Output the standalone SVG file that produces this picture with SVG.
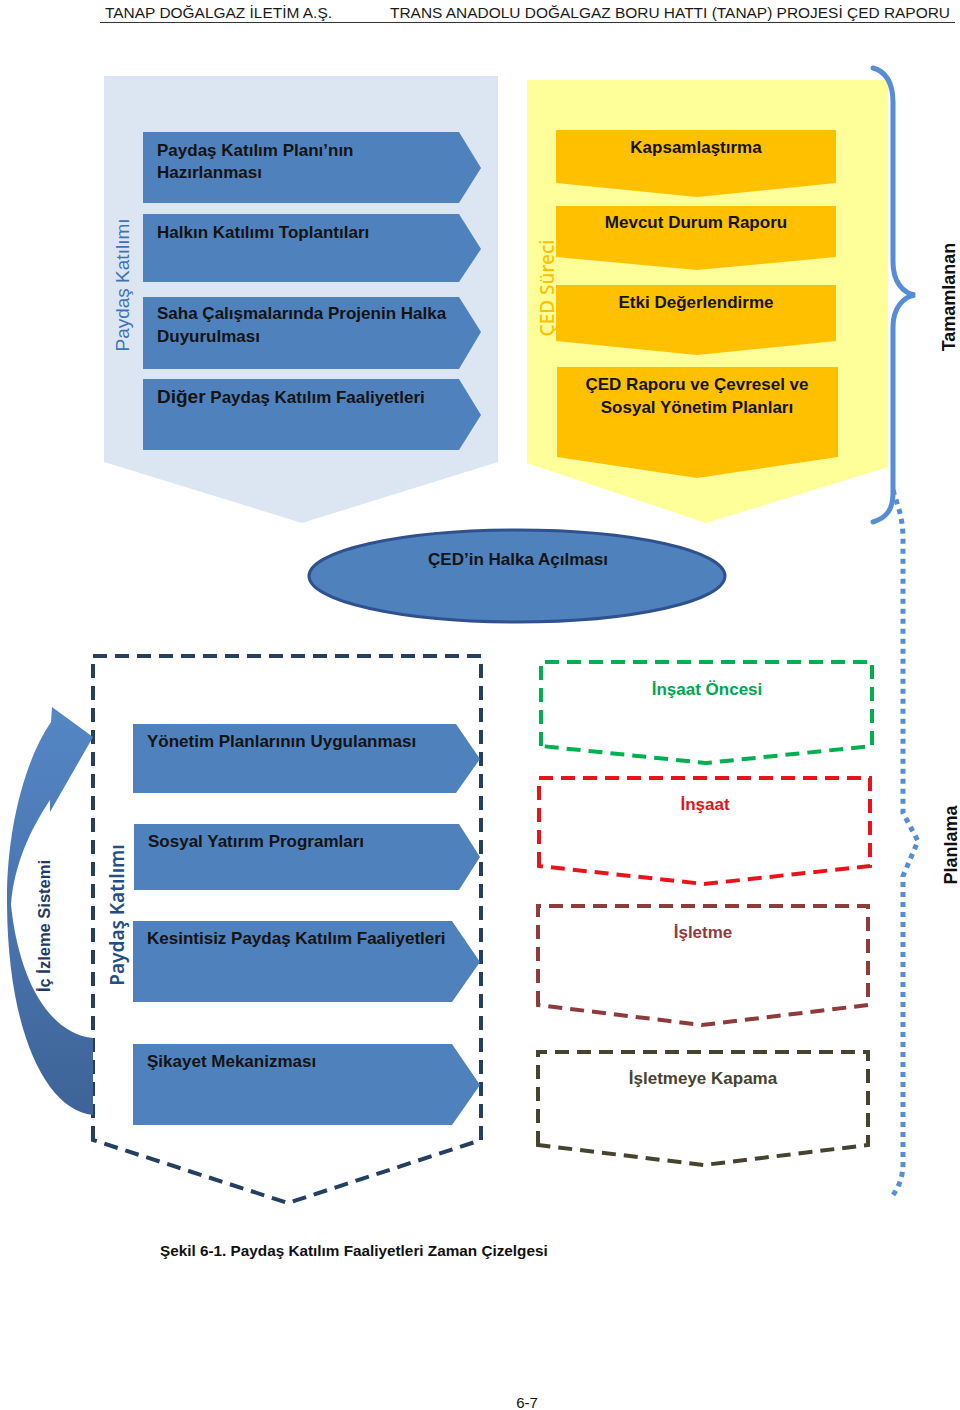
<svg xmlns="http://www.w3.org/2000/svg" width="960" height="1410" viewBox="0 0 960 1410">
<style>
text{font-family:"Liberation Sans",Arial,sans-serif}
.b{font-weight:bold;font-size:17px;fill:#141414}
.blue{fill:#4F81BD}
.org{fill:#FFC000}
.ds{fill:none;stroke-width:4;stroke-dasharray:14 8}
.c{text-anchor:middle}
</style>
<defs>
<linearGradient id="g" x1="0" y1="700" x2="0" y2="1120" gradientUnits="userSpaceOnUse">
<stop offset="0" stop-color="#5587C6"/>
<stop offset="1" stop-color="#3D6397"/>
</linearGradient>
</defs>
<rect width="960" height="1410" fill="#fff"/>
<g id="header">
<text x="105" y="18" font-size="15" fill="#1a1a1a" textLength="227" lengthAdjust="spacingAndGlyphs">TANAP DOĞALGAZ İLETİM A.Ş.</text>
<text x="390" y="18" font-size="15" fill="#1a1a1a" textLength="560" lengthAdjust="spacingAndGlyphs">TRANS ANADOLU DOĞALGAZ BORU HATTI (TANAP) PROJESİ ÇED RAPORU</text>
<line x1="100" y1="22.5" x2="955" y2="22.5" stroke="#333" stroke-width="1"/>
</g>
<g id="paydas-top">
<path d="M104 76 H498 V462 L302 523 L104 462 Z" fill="#DCE6F2"/>
<text transform="rotate(-90 129 285)" x="129" y="285" class="c" font-size="19" fill="#3F72B5">Paydaş Katılımı</text>
</g>
<g id="ced-sureci">
<path d="M527 80 H888 V467 L706 523 L527 463 Z" fill="#FFFF99"/>
<text transform="rotate(-90 554 288)" x="554" y="288" class="c" font-size="19" font-weight="500" fill="#FFC000" style="font-family:'Noto Sans','Open Sans',sans-serif">ÇED Süreci</text>
</g>
<g id="n1"><path class="blue" d="M143 132 H459 L481 168 L459 203 H143 Z"/><text class="b" x="157" y="156">Paydaş Katılım Planı’nın</text><text class="b" x="157" y="178">Hazırlanması</text></g>
<g id="n2"><path class="blue" d="M143 214 H459 L481 249 L459 282 H143 Z"/><text class="b" x="157" y="238">Halkın Katılımı Toplantıları</text></g>
<g id="n3"><path class="blue" d="M143 297 H459 L481 332 L459 369 H143 Z"/><text class="b" x="157" y="319">Saha Çalışmalarında Projenin Halka</text><text class="b" x="157" y="342">Duyurulması</text></g>
<g id="n4"><path class="blue" d="M143 379 H459 L481 415 L459 450 H143 Z"/><text class="b" x="157" y="403"><tspan font-size="19">Diğer</tspan> Paydaş Katılım Faaliyetleri</text></g>
<g id="o1"><path class="org" d="M556 130 H836 V183 L697 197 L556 183 Z"/><text class="b c" x="696" y="153">Kapsamlaştırma</text></g>
<g id="o2"><path class="org" d="M556 206 H836 V257 L697 270 L556 257 Z"/><text class="b c" x="696" y="228">Mevcut Durum Raporu</text></g>
<g id="o3"><path class="org" d="M556 285 H836 V341 L697 355 L556 341 Z"/><text class="b c" x="696" y="308">Etki Değerlendirme</text></g>
<g id="o4"><path class="org" d="M557 367 H838 V457 L697 478 L557 457 Z"/><text class="b c" x="697" y="390">ÇED Raporu ve Çevresel ve</text><text class="b c" x="697" y="413">Sosyal Yönetim Planları</text></g>
<g id="tamamlanan">
<path d="M873 68 C888 72 893 85 893 103 V262 C893 282 903 293 915 295 C903 297 893 308 893 327 V493 C893 510 886 518 873 522" fill="none" stroke="#558ED5" stroke-width="5" stroke-linecap="round"/>
<text transform="rotate(-90 955 297)" x="955" y="297" class="c" font-size="18" font-weight="bold" fill="#111">Tamamlanan</text>
</g>
<g id="ellipse">
<ellipse cx="517" cy="576" rx="208" ry="46" fill="#4F81BD" stroke="#2F528F" stroke-width="3"/>
<text class="b c" x="518" y="565">ÇED’in Halka Açılması</text>
</g>
<g id="uygulama">
<path class="ds" stroke="#243F60" d="M93 1140 V656 H481 V1140 L288 1203 Z"/>
<text transform="rotate(-90 124 915)" x="124" y="915" class="c" font-size="19" font-weight="600" fill="#254E85" style="font-family:'Noto Sans','Open Sans',sans-serif">Paydaş Katılımı</text>
</g>
<g id="izleme">
<path fill="url(#g)" d="M93 1115 C45 1110 8 1030 7 905 C6 830 25 760 51 722 L52 707 L93 737 L50 812 L50 800 C30 830 14 865 11 905 C20 990 55 1035 93 1038 Z"/>
<text transform="rotate(-90 50 926)" x="50" y="926" class="c" font-size="16.5" font-weight="bold" fill="#1F3B63">İç İzleme Sistemi</text>
</g>
<g id="b1"><path class="blue" d="M133 724 H456 L480 759 L456 793 H133 Z"/><text class="b" x="147" y="747">Yönetim Planlarının Uygulanması</text></g>
<g id="b2"><path class="blue" d="M134 824 H459 L480 857 L459 890 H134 Z"/><text class="b" x="148" y="847">Sosyal Yatırım Programları</text></g>
<g id="b3"><path class="blue" d="M133 921 H452 L480 962 L452 1002 H133 Z"/><text class="b" x="147" y="944">Kesintisiz Paydaş Katılım Faaliyetleri</text></g>
<g id="b4"><path class="blue" d="M133 1044 H452 L480 1085 L452 1125 H133 Z"/><text class="b" x="147" y="1067">Şikayet Mekanizması</text></g>
<g id="p1"><path class="ds" stroke="#00B050" d="M541 746 V662 H872 V746 L706 763 Z"/><text class="b c" x="707" y="695" style="fill:#00A650">İnşaat Öncesi</text></g>
<g id="p2"><path class="ds" stroke="#E8141B" d="M539 866 V778 H870 V866 L704 884 Z"/><text class="b c" x="705" y="810" style="fill:#E1141B">İnşaat</text></g>
<g id="p3"><path class="ds" stroke="#8E3B3B" d="M538 1005 V906 H868 V1005 L702 1025 Z"/><text class="b c" x="703" y="938" style="fill:#8E3B3B">İşletme</text></g>
<g id="p4"><path class="ds" stroke="#46432E" d="M538 1145 V1052 H868 V1145 L704 1165 Z"/><text class="b c" x="703" y="1084" style="fill:#46432E">İşletmeye Kapama</text></g>
<g id="connectors">
<path d="M893 490 C897 505 903 515 903 540 V813 L918 841 L903 876 V1164 C903 1178 898 1188 893 1195" fill="none" stroke="#558ED5" stroke-width="5" stroke-dasharray="5 5"/>
</g>
<g id="planlama">
<text transform="rotate(-90 957 845)" x="957" y="845" class="c" font-size="18" font-weight="bold" fill="#111">Planlama</text>
</g>
<g id="caption">
<text x="160" y="1256" font-size="15.3" font-weight="bold" fill="#111">Şekil 6-1. Paydaş Katılım Faaliyetleri Zaman Çizelgesi</text>
<text x="527" y="1408" font-size="15" class="c" fill="#111">6-7</text>
</g>
</svg>
